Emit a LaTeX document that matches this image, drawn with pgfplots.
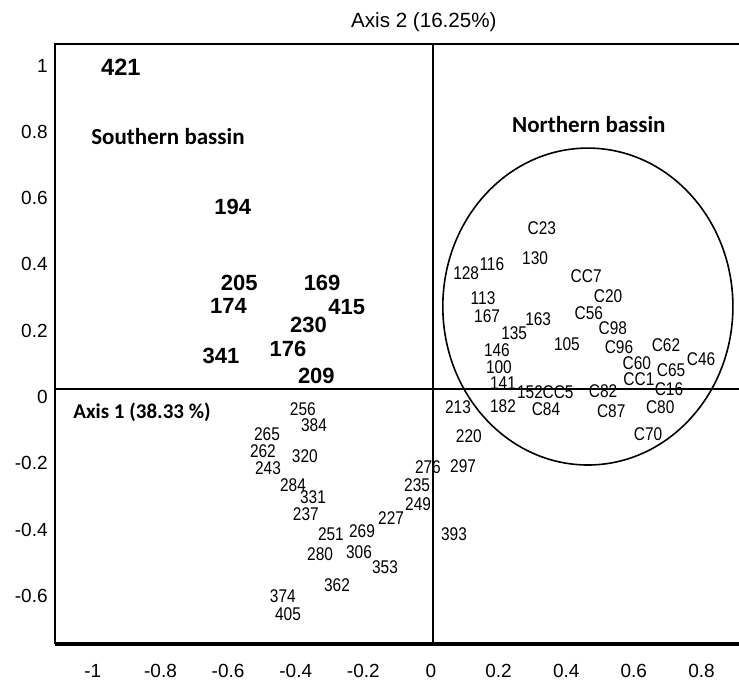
\documentclass[border=0pt]{standalone}
\usepackage{fontspec}
\setmainfont{Liberation Sans}
\newfontfamily\carlito{Carlito}
\newfontfamily\narrow[FakeStretch=0.84]{Liberation Sans}
\usepackage{pgfplots}
\pgfplotsset{compat=1.18}
\begin{document}
\begin{tikzpicture}
\begin{axis}[
  scale only axis, width=342pt, height=300pt,
  xmin=-1.112, xmax=0.911, ymin=-0.745, ymax=1.065,
  axis line style={draw=none},
  major tick length=0pt,
  xtick={-1,-0.8,-0.6,-0.4,-0.2,0,0.2,0.4,0.6,0.8},
  xticklabels={-1,-0.8,-0.6,-0.4,-0.2,0,0.2,0.4,0.6,0.8},
  ytick={-0.6,-0.4,-0.2,0,0.2,0.4,0.6,0.8,1},
  yticklabels={-0.6,-0.4,-0.2,0,0.2,0.4,0.6,0.8,1},
  tick label style={font=\fontsize{9.5}{11}\selectfont},
  xticklabel style={anchor=north, inner sep=0pt, yshift=-10pt},
  yticklabel style={anchor=east, inner sep=0pt, xshift=-3.5pt},
  clip=false,
]
\coordinate (SW) at (rel axis cs:0,0);
\coordinate (NE) at (rel axis cs:1,1);
% frame
\draw[line width=1pt, line join=miter] (rel axis cs:1,1) -- (rel axis cs:0,1) -- (rel axis cs:0,0);
\draw[line width=2pt] (rel axis cs:0,0) -- (rel axis cs:1,0);
% centre lines
\draw[line width=1.2pt] (axis cs:0.006,-0.745) -- (axis cs:0.006,1.065);
\draw[line width=1.1pt] (axis cs:-1.112,0.024) -- (axis cs:0.911,0.024);
% ellipse
\draw[line width=0.8pt] (axis cs:0.464,0.273) ellipse [x radius=0.429, y radius=0.478];

% 421
\addplot[only marks, mark=none, nodes near coords, point meta=explicit symbolic,
  nodes near coords style={anchor=center, inner sep=0pt, text=black,
  font=\bfseries\fontsize{11.8}{14}\selectfont}]
  table[x=x, y=y, meta=label] {
x y label
-0.917 0.996 421
};

% southern bold labels
\addplot[only marks, mark=none, nodes near coords, point meta=explicit symbolic,
  nodes near coords style={anchor=center, inner sep=0pt, text=black,
  font=\bfseries\fontsize{11}{13}\selectfont}]
  table[x=x, y=y, meta=label] {
x y label
-0.586 0.573 194
-0.567 0.344 205
-0.322 0.344 169
-0.599 0.275 174
-0.249 0.272 415
-0.362 0.217 230
-0.423 0.145 176
-0.621 0.124 341
-0.339 0.063 209
};

% northern labels
\addplot[only marks, mark=none, nodes near coords, point meta=explicit symbolic,
  nodes near coords style={anchor=center, inner sep=0pt, text=black,
  font=\narrow\fontsize{9.2}{10}\selectfont}]
  table[x=x, y=y, meta=label] {
x y label
0.328 0.510 C23
0.180 0.401 116
0.104 0.374 128
0.308 0.419 130
0.459 0.365 CC7
0.154 0.299 113
0.524 0.305 C20
0.166 0.244 167
0.467 0.253 C56
0.317 0.235 163
0.246 0.193 135
0.538 0.208 C98
0.402 0.160 105
0.556 0.151 C96
0.695 0.157 C62
0.195 0.140 146
0.799 0.115 C46
0.201 0.091 100
0.609 0.103 C60
0.710 0.081 C65
0.615 0.054 CC1
0.213 0.041 141
0.704 0.024 C16
0.293 0.015 152
0.376 0.015 CC5
0.509 0.018 C82
0.080 -0.030 213
0.213 -0.027 182
0.340 -0.036 C84
0.533 -0.042 C87
0.678 -0.030 C80
0.112 -0.118 220
0.642 -0.112 C70
};

% lower labels
\addplot[only marks, mark=none, nodes near coords, point meta=explicit symbolic,
  nodes near coords style={anchor=center, inner sep=0pt, text=black,
  font=\narrow\fontsize{9.2}{10}\selectfont}]
  table[x=x, y=y, meta=label] {
x y label
-0.379 -0.036 256
-0.346 -0.084 384
-0.485 -0.112 265
-0.497 -0.163 262
-0.373 -0.178 320
-0.482 -0.214 243
-0.009 -0.211 276
0.095 -0.208 297
-0.408 -0.266 284
-0.041 -0.266 235
-0.349 -0.302 331
-0.038 -0.323 249
-0.370 -0.353 237
-0.118 -0.365 227
-0.204 -0.404 269
-0.296 -0.413 251
0.068 -0.413 393
-0.328 -0.474 280
-0.213 -0.468 306
-0.136 -0.513 353
-0.278 -0.567 362
-0.438 -0.600 374
-0.423 -0.655 405
};

\node[font=\carlito\bfseries\fontsize{11.5}{13}\selectfont] at (axis cs:-0.778,0.785) {Southern bassin};
\node[font=\carlito\bfseries\fontsize{11.5}{13}\selectfont] at (axis cs:0.467,0.821) {Northern bassin};
\node[anchor=west, inner sep=0pt, font=\carlito\bfseries\fontsize{10.5}{12}\selectfont] at (axis cs:-1.059,-0.045) {Axis 1 (38.33 \%)};
\node[anchor=base, inner sep=0pt, font=\fontsize{10.3}{12}\selectfont] at ([yshift=8.4pt]axis cs:-0.021,1.065) {Axis 2 (16.25\%)};
\end{axis}
\pgfresetboundingbox
\path[use as bounding box] ([xshift=-27.5pt,yshift=-18.5pt]SW) rectangle ([yshift=22pt]NE);
\end{tikzpicture}
\end{document}
